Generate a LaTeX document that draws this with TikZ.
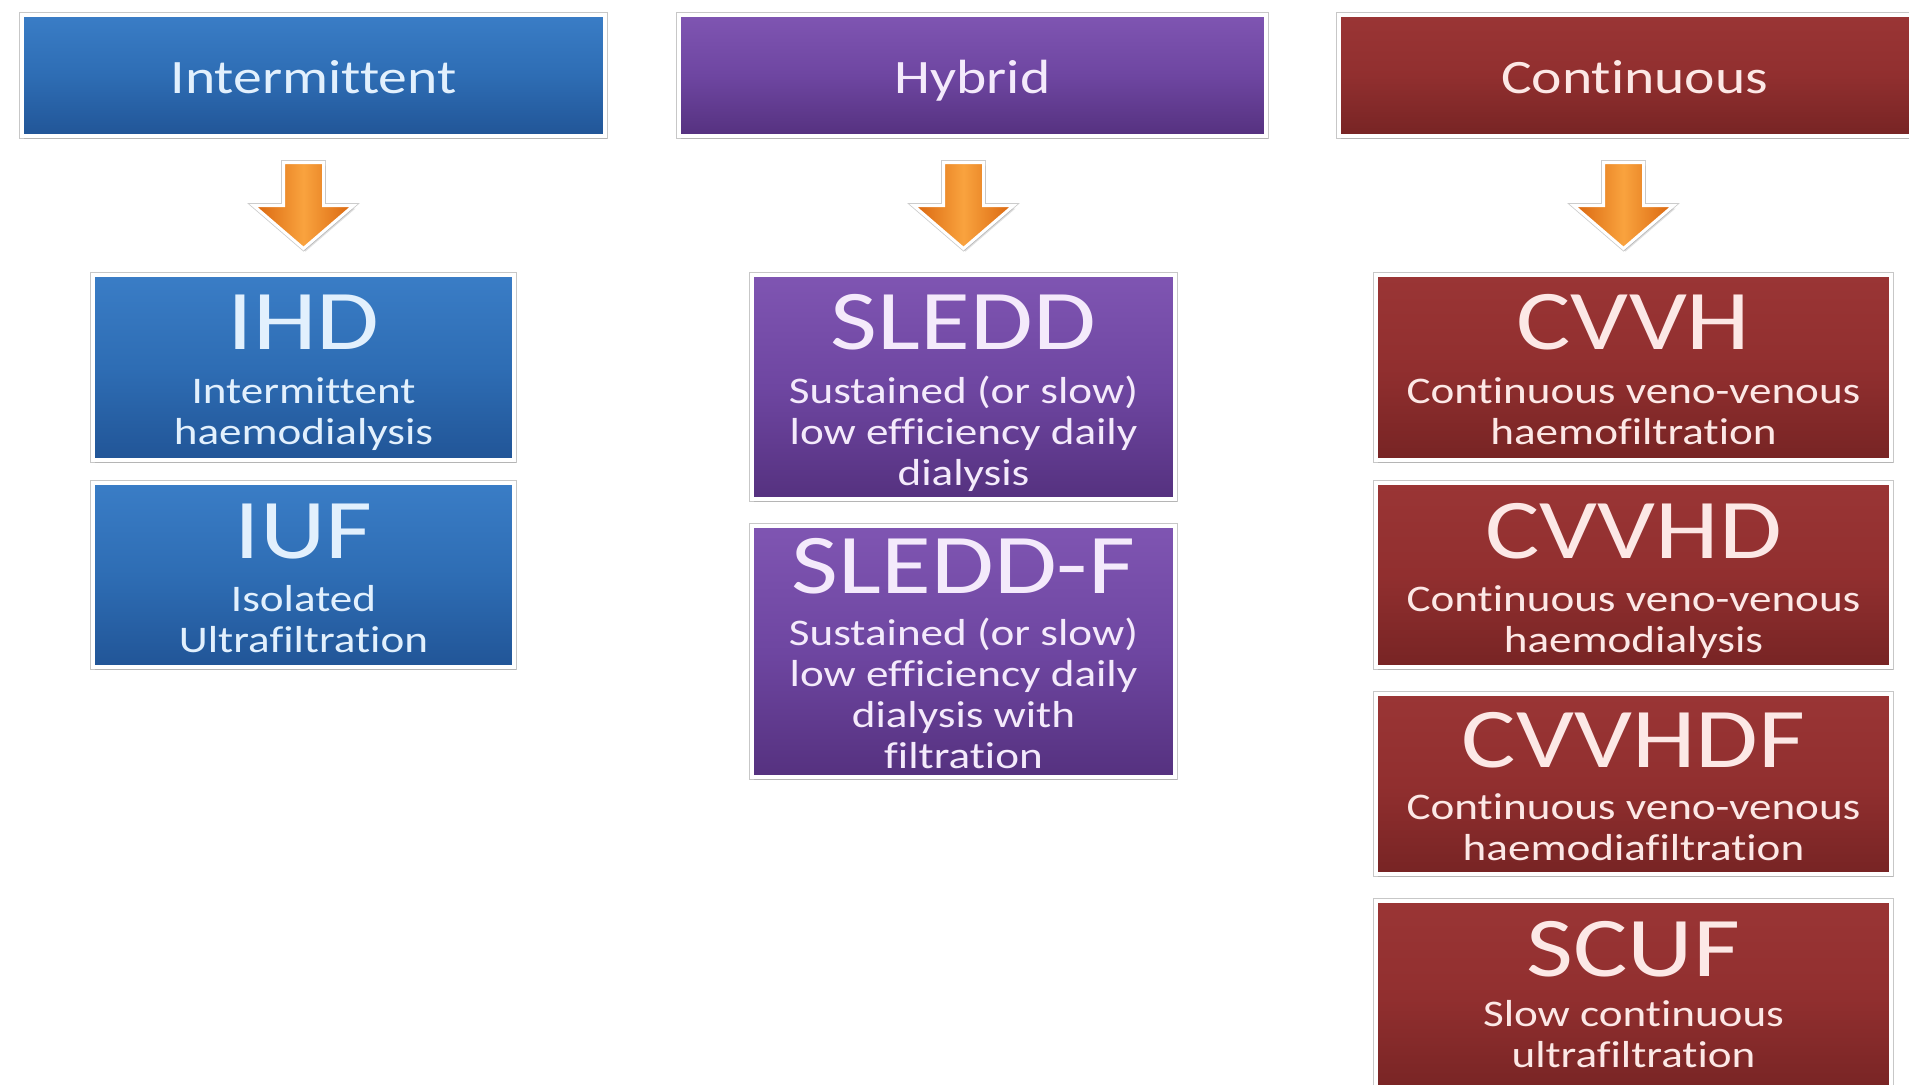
\documentclass[tikz,border=0pt]{standalone}
\usepackage{fontspec}
\setmainfont{Carlito}[FakeStretch=1.2, Ligatures=NoCommon]
\usetikzlibrary{calc,shadows}

% palette
\definecolor{blueTop}{HTML}{3A7DC6}
\definecolor{blueMid}{HTML}{2E6DB4}
\definecolor{blueBot}{HTML}{215597}
\definecolor{blueInk}{HTML}{E2F0FD}
\definecolor{purpTop}{HTML}{7F55B2}
\definecolor{purpMid}{HTML}{6E46A1}
\definecolor{purpBot}{HTML}{55317F}
\definecolor{purpInk}{HTML}{F4EAFB}
\definecolor{redTop}{HTML}{9A3535}
\definecolor{redMid}{HTML}{912F2F}
\definecolor{redBot}{HTML}{772424}
\definecolor{redInk}{HTML}{FCE8E6}
\definecolor{arrLight}{HTML}{F9A33E}
\definecolor{arrDark}{HTML}{D9650E}

\tikzset{
  box/.style={rectangle, draw=white, line width=2pt, inner sep=0pt, outer sep=0pt,
    preaction={draw=black!22, line width=3pt},
    drop shadow={opacity=0.25, shadow xshift=1pt, shadow yshift=-1.5pt}},
  bluebox/.style={box, top color=blueTop, bottom color=blueBot, middle color=blueMid, text=blueInk},
  purpbox/.style={box, top color=purpTop, bottom color=purpBot, middle color=purpMid, text=purpInk},
  redbox/.style={box, top color=redTop, bottom color=redBot, middle color=redMid, text=redInk},
  hdrbox/.style={minimum height=60.5pt, text height=18pt, text depth=0pt,
    font=\fontsize{24}{28}\selectfont},
  ttl/.style={anchor=base, inner sep=0pt, font=\fontsize{42.5}{48}\selectfont},
  desc/.style={anchor=north, inner sep=0pt, align=center, font=\fontsize{18.8}{20.5}\selectfont},
  blockarrow/.style={draw=white, line width=1.5pt, line join=miter,
    preaction={draw=black!20, line width=2.3pt},
    left color=arrDark, right color=arrDark, middle color=arrLight,
    drop shadow={opacity=0.25, shadow xshift=1pt, shadow yshift=-1.5pt}},
  downarrow/.pic={
    \draw[blockarrow] (-20,-43) -- (20,-43) -- (20,0) -- (50,0) -- (0,43)
      -- (-50,0) -- (-20,0) -- cycle;
  }
}

\begin{document}
\begin{tikzpicture}[x=0.5pt, y=-0.5pt]
  \fill[white] (0,0) rectangle (1909,1084);
  \clip (0,0) rectangle (1909,1084);

  % column headers
  \node[bluebox, hdrbox, minimum width=291.5pt] (hdrI) at (313.5,75.5) {Intermittent};
  \node[purpbox, hdrbox, minimum width=293.5pt] (hdrH) at (972.5,75.5) {Hybrid};
  \node[redbox,  hdrbox, minimum width=295.5pt] (hdrC) at (1634.5,75.5) {Continuous};

  % intermittent modalities
  \node[bluebox, minimum width=210.5pt, minimum height=92.5pt] (ihd) at (303.5,367.5) {};
  \node[bluebox, minimum width=210.5pt, minimum height=92pt]   (iuf) at (303.5,575) {};

  % hybrid modalities
  \node[purpbox, minimum width=211.5pt, minimum height=112pt]   (sledd)  at (963.5,387) {};
  \node[purpbox, minimum width=211.5pt, minimum height=125.5pt] (sleddf) at (963.5,651.5) {};

  % continuous modalities
  \node[redbox, minimum width=257.5pt, minimum height=92.5pt] (cvvh)   at (1633.5,367.5) {};
  \node[redbox, minimum width=257.5pt, minimum height=92pt]   (cvvhd)  at (1633.5,575) {};
  \node[redbox, minimum width=257.5pt, minimum height=90pt]   (cvvhdf) at (1633.5,784) {};
  \node[redbox, minimum width=257.5pt, minimum height=96.5pt] (scuf)   at (1633.5,997.5) {};

  % box texts
  \begin{scope}[text=blueInk]
    \node[ttl]  (ihd-t) at ($(ihd.north)+(0,74)$) {IHD};
    \node[desc] (ihd-d) at ($(ihd.north)+(0,98)$) {\rule{0pt}{15pt}Intermittent\\haemodialysis};
    \node[ttl]  (iuf-t) at ($(iuf.north)+(0,75)$) {IUF};
    \node[desc] (iuf-d) at ($(iuf.north)+(0,98)$) {\rule{0pt}{15pt}Isolated\\Ultrafiltration};
  \end{scope}
  \begin{scope}[text=purpInk]
    \node[ttl]  (sledd-t) at ($(sledd.north)+(0,74)$) {SLEDD};
    \node[desc] (sledd-d) at ($(sledd.north)+(0,98)$)
      {\rule{0pt}{15pt}Sustained (or slow)\\low efficiency daily\\dialysis};
    \node[ttl]  (sleddf-t) at ($(sleddf.north)+(0,67)$) {SLEDD-F};
    \node[desc] (sleddf-d) at ($(sleddf.north)+(0,89)$)
      {\rule{0pt}{15pt}Sustained (or slow)\\low efficiency daily\\dialysis with\\filtration};
  \end{scope}
  \begin{scope}[text=redInk]
    \node[ttl]  (cvvh-t) at ($(cvvh.north)+(0,74)$) {CVVH};
    \node[desc] (cvvh-d) at ($(cvvh.north)+(0,98)$)
      {\rule{0pt}{15pt}Continuous veno-venous\\haemofiltration};
    \node[ttl]  (cvvhd-t) at ($(cvvhd.north)+(0,75)$) {CVVHD};
    \node[desc] (cvvhd-d) at ($(cvvhd.north)+(0,98)$)
      {\rule{0pt}{15pt}Continuous veno-venous\\haemodialysis};
    \node[ttl]  (cvvhdf-t) at ($(cvvhdf.north)+(0,73)$) {CVVHDF};
    \node[desc] (cvvhdf-d) at ($(cvvhdf.north)+(0,95)$)
      {\rule{0pt}{15pt}Continuous veno-venous\\haemodiafiltration};
    \node[ttl]  (scuf-t) at ($(scuf.north)+(0,75)$) {SCUF};
    \node[desc] (scuf-d) at ($(scuf.north)+(0,95)$)
      {\rule{0pt}{15pt}Slow continuous\\ultrafiltration};
  \end{scope}

  % block arrows from each header to its first modality
  \path let \p1=(hdrI.south), \p2=(ihd.north) in coordinate (aI) at (\x2,{0.5*(\y1+\y2)});
  \path let \p1=(hdrH.south), \p2=(sledd.north) in coordinate (aH) at (\x2,{0.5*(\y1+\y2)});
  \path let \p1=(hdrC.south), \p2=(cvvh.north) in coordinate (aC) at ({\x2-5pt},{0.5*(\y1+\y2)});
  \pic at (aI) {downarrow};
  \pic at (aH) {downarrow};
  \pic at (aC) {downarrow};
\end{tikzpicture}
\end{document}
